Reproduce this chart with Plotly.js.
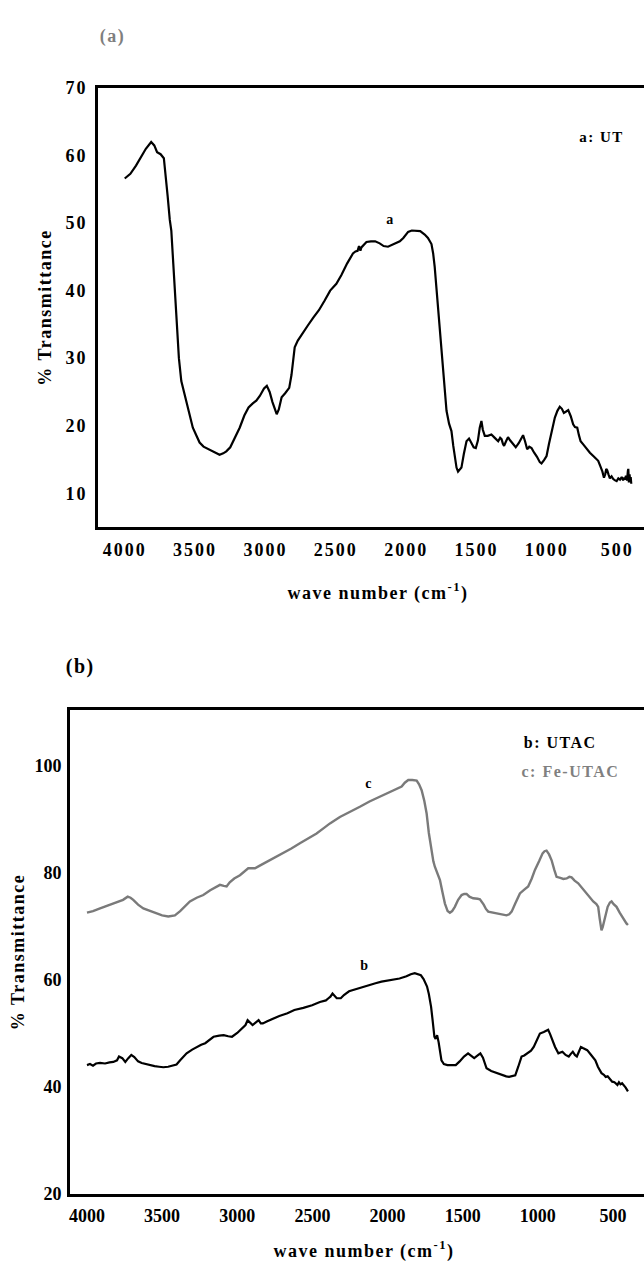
<!DOCTYPE html>
<html>
<head>
<meta charset="utf-8">
<script src="https://cdn.plot.ly/plotly-3.0.1.min.js"></script>
<style>
  html, body { margin: 0; padding: 0; background: #fff; overflow: hidden; }
  #chart { width: 680px; height: 1263px; }
  #chart .xtick text, #chart .ytick text { letter-spacing: 2px; }
  #chart .g-xtitle text, #chart .g-x2title text,
  #chart .g-ytitle text, #chart .g-y2title text { letter-spacing: 1.5px; }
  #chart .annotation-text { letter-spacing: 1.5px; }
</style>
</head>
<body>
<div id="chart"></div>
<script>
// FTIR spectra: (a) UT, (b) UTAC and Fe-UTAC
const waveA = [4000,3960,3920,3880,3850,3812,3790,3770,3745,3722,3710,3695,3680,3669,3655,3646,3630,3615,3598,3580,3563,3540,3516,3490,3468,3440,3410,3397,3370,3345,3326,3300,3278,3250,3220,3183,3150,3120,3090,3065,3040,3010,2990,2970,2950,2920,2905,2885,2860,2831,2815,2802,2792,2770,2740,2700,2660,2620,2580,2540,2496,2460,2420,2390,2378,2360,2345,2335,2325,2318,2300,2282,2250,2220,2188,2160,2129,2100,2070,2045,2020,1986,1960,1927,1900,1868,1845,1820,1808,1797,1785,1773,1755,1733,1720,1713,1695,1678,1665,1654,1642,1631,1620,1607,1590,1571,1553,1535,1520,1505,1490,1477,1465,1455,1441,1420,1394,1370,1346,1332,1322,1312,1304,1290,1276,1260,1240,1221,1200,1185,1169,1155,1140,1125,1109,1090,1070,1050,1038,1020,1002,985,965,943,925,908,893,879,863,848,830,813,800,784,772,760,740,720,694,670,650,635,620,605,594,585,578,571,562,552,540,528,515,504,492,480,468,458,450,445,438,430,424,421,417,412,408,404,400];
const transUT = [56.6,57.3,58.5,60.0,61.0,62.0,61.5,60.5,60.2,59.6,57.5,54.0,50.5,48.9,44.0,40.5,35.0,30.0,26.6,25.0,23.7,21.6,19.7,18.5,17.5,16.9,16.6,16.5,16.2,15.9,15.7,15.9,16.2,16.8,18.0,19.7,21.5,22.7,23.3,23.7,24.4,25.5,25.9,25.0,23.5,21.7,22.4,24.2,24.8,25.6,27.5,29.6,31.6,32.6,33.6,34.8,36.0,37.1,38.5,40.0,41.0,42.3,44.0,45.2,45.5,45.8,45.9,46.6,45.9,46.4,46.8,47.2,47.3,47.3,47.0,46.6,46.5,46.8,47.0,47.3,47.8,48.7,48.9,48.9,48.8,48.3,47.8,46.9,45.5,43.5,40.5,37.5,33.0,28.1,24.0,22.2,20.3,19.2,17.0,15.2,13.8,13.2,13.5,13.8,15.8,17.7,18.1,17.5,16.8,16.7,17.8,19.7,20.7,19.4,18.5,18.5,18.7,18.2,17.7,18.2,18.0,17.3,17.0,17.7,18.3,17.8,17.2,16.8,17.4,18.0,18.6,17.7,16.5,16.9,16.7,16.0,15.4,14.6,14.4,14.9,15.5,17.3,19.3,21.2,22.2,22.8,22.5,21.9,22.1,22.3,21.4,20.2,19.8,19.7,18.6,17.7,17.2,16.6,16.0,15.5,15.1,14.8,14.0,13.2,12.3,12.8,13.6,13.4,12.8,12.2,12.5,12.1,11.9,11.8,12.2,12.0,12.4,11.9,12.3,12.0,12.6,11.9,13.3,13.6,11.6,12.8,11.7,12.4,11.4];

const waveFe = [4000,3960,3913,3860,3802,3760,3729,3710,3692,3660,3625,3580,3536,3500,3459,3430,3415,3380,3350,3315,3270,3226,3180,3140,3115,3090,3071,3050,3020,2982,2950,2927,2900,2882,2850,2804,2750,2694,2640,2583,2530,2472,2420,2383,2317,2250,2184,2120,2051,2000,1962,1930,1906,1885,1862,1835,1806,1790,1773,1755,1740,1725,1707,1695,1685,1670,1651,1635,1618,1600,1585,1570,1552,1530,1507,1490,1474,1455,1430,1400,1385,1360,1345,1330,1300,1274,1240,1208,1190,1174,1150,1130,1119,1090,1064,1040,1019,990,968,955,942,925,908,890,875,850,830,808,790,775,755,731,700,675,650,631,610,598,588,580,576,568,560,548,535,520,509,495,476,455,432,410,400];
const transFeUTAC = [72.6,72.9,73.4,74.0,74.6,75.0,75.6,75.4,75.0,74.1,73.4,72.9,72.5,72.1,71.9,72.0,72.1,72.9,73.8,74.7,75.4,75.9,76.8,77.5,77.8,77.6,77.5,78.3,79.0,79.6,80.3,80.9,80.9,80.9,81.4,82.1,82.9,83.7,84.6,85.6,86.5,87.4,88.5,89.3,90.5,91.4,92.4,93.4,94.3,94.9,95.5,95.8,96.2,96.9,97.4,97.4,97.3,96.6,95.5,93.5,91.2,87.5,83.7,82.2,81.2,80.0,78.7,76.5,74.3,72.9,72.6,72.9,73.7,75.0,75.9,76.1,76.1,75.6,75.3,75.2,75.1,74.1,73.3,72.8,72.6,72.5,72.3,72.1,72.3,72.8,74.3,75.7,76.2,76.9,77.5,79.0,80.6,82.3,83.7,84.1,84.2,83.5,82.4,80.6,79.3,79.1,78.9,79.0,79.3,79.2,78.6,78.1,77.0,76.2,75.4,74.7,74.2,73.7,71.5,69.6,69.3,69.9,70.9,72.0,73.7,74.5,74.7,74.2,73.7,72.6,71.5,70.6,70.3];

const waveB = [4000,3980,3960,3940,3913,3880,3850,3825,3800,3787,3765,3745,3725,3705,3685,3660,3636,3610,3581,3550,3520,3492,3460,3426,3404,3380,3337,3300,3270,3240,3213,3190,3158,3120,3090,3060,3035,3000,2967,2945,2931,2915,2898,2880,2858,2843,2830,2800,2760,2720,2666,2620,2560,2502,2450,2410,2393,2380,2366,2350,2338,2311,2290,2256,2200,2160,2120,2080,2040,2000,1955,1920,1874,1845,1819,1795,1778,1760,1748,1737,1725,1718,1710,1700,1688,1680,1670,1660,1650,1641,1625,1601,1575,1546,1520,1491,1464,1445,1423,1400,1382,1365,1350,1341,1310,1273,1240,1210,1191,1170,1150,1130,1108,1090,1068,1045,1027,1005,986,960,931,918,904,885,863,850,836,815,794,780,767,753,740,728,713,700,671,645,617,600,588,576,560,548,535,521,505,490,480,470,460,450,439,425,415,400];
const transUTAC = [44.1,44.3,44.0,44.4,44.5,44.4,44.6,44.7,45.0,45.7,45.4,44.7,45.4,46.0,45.6,44.8,44.5,44.3,44.1,43.9,43.8,43.7,43.8,44.1,44.2,45.0,46.3,47.0,47.5,47.9,48.2,48.7,49.4,49.6,49.7,49.5,49.4,50.1,51.0,51.6,52.5,52.0,51.6,52.0,52.5,51.9,51.9,52.3,52.8,53.3,53.8,54.4,54.8,55.3,55.9,56.2,56.6,56.9,57.5,56.9,56.6,56.6,57.2,57.9,58.4,58.8,59.1,59.4,59.7,59.9,60.2,60.3,60.7,61.1,61.3,61.0,60.9,60.2,59.5,58.8,57.4,56.5,55.0,52.5,49.4,49.0,49.7,48.4,46.0,45.0,44.3,44.1,44.1,44.1,44.8,45.7,46.3,45.8,45.4,45.9,46.3,45.5,44.2,43.5,43.0,42.6,42.3,42.0,41.9,42.0,42.2,43.8,45.7,45.9,46.3,46.8,47.5,49.0,50.0,50.3,50.7,49.9,48.8,47.5,46.3,46.4,46.6,46.0,45.7,46.2,46.6,46.0,45.7,46.5,47.5,47.3,46.9,46.0,45.0,43.8,43.2,42.6,42.3,41.9,42.0,41.6,41.0,40.9,40.7,40.4,40.9,40.5,40.7,40.3,39.9,39.2];

const waveTicks = [4000, 3500, 3000, 2500, 2000, 1500, 1000, 500];
const ticksA = [10, 20, 30, 40, 50, 60, 70];
const ticksB = [20, 40, 60, 80, 100];

const W = 680, H = 1263;
const px = v => v / W;          // horizontal pixel -> paper fraction
const py = v => 1 - v / H;      // vertical pixel (from top) -> paper fraction

const serif = 'Liberation Serif, Times New Roman, serif';
const tickFont = {family: serif, size: 18, color: '#000', weight: 'bold'};
const titleFont = {family: serif, size: 18, color: '#000', weight: 'bold'};

const axisBase = {
  showline: true, mirror: true, linecolor: '#000', linewidth: 3,
  showgrid: false, zeroline: false, ticks: '', tickfont: tickFont,
  automargin: false, fixedrange: true
};

const traces = [
  {x: waveA, y: transUT, xaxis: 'x', yaxis: 'y', mode: 'lines',
   line: {color: '#000', width: 2.2}, hoverinfo: 'skip'},
  {x: waveB, y: transUTAC, xaxis: 'x2', yaxis: 'y2', mode: 'lines',
   line: {color: '#000', width: 2.2}, hoverinfo: 'skip'},
  {x: waveFe, y: transFeUTAC, xaxis: 'x2', yaxis: 'y2', mode: 'lines',
   line: {color: '#7a7a7a', width: 2.4}, hoverinfo: 'skip'}
];

const layout = {
  width: W, height: H,
  margin: {l: 0, r: 0, t: 0, b: 0},
  paper_bgcolor: '#fff', plot_bgcolor: '#fff',
  showlegend: false,
  font: {family: serif, color: '#000'},
  xaxis: Object.assign({}, axisBase, {
    domain: [px(98), px(658)], range: [4190, 210], anchor: 'y',
    tickvals: waveTicks, ticklabelstandoff: 4,
    title: {text: 'wave number (cm<sup>-1</sup>)', font: titleFont, standoff: 28}
  }),
  yaxis: Object.assign({}, axisBase, {
    domain: [py(527), py(88)], range: [5, 70], anchor: 'x',
    tickvals: ticksA, ticklabelstandoff: 4,
    title: {text: '% Transmittance', font: titleFont, standoff: 14}
  }),
  xaxis2: Object.assign({}, axisBase, {
    domain: [px(70), px(658)], range: [4113, 200], anchor: 'y2',
    tickvals: waveTicks, ticklabelstandoff: 3,
    title: {text: 'wave number (cm<sup>-1</sup>)', font: titleFont, standoff: 20}
  }),
  yaxis2: Object.assign({}, axisBase, {
    domain: [py(1194), py(710)], range: [20, 110.5], anchor: 'x2',
    tickvals: ticksB, ticklabelstandoff: 2,
    title: {text: '% Transmittance', font: titleFont, standoff: 6}
  }),
  annotations: [
    {xref: 'paper', yref: 'paper', x: px(100), y: py(24), text: '(a)',
     showarrow: false, font: {family: serif, size: 18, color: '#7f7f7f', weight: 'bold'}},
    {xref: 'paper', yref: 'paper', x: px(66), y: py(666), text: '(b)',
     showarrow: false, font: {family: serif, size: 20, color: '#000', weight: 'bold'}},
    {xref: 'x', yref: 'y', x: 2112, y: 50.5, text: 'a', showarrow: false,
     font: {family: serif, size: 14, color: '#000', weight: 'bold'}},
    {xref: 'x', yref: 'y', x: 611, y: 62.8, text: 'a: UT', showarrow: false,
     font: {family: serif, size: 15, color: '#000', weight: 'bold'}},
    {xref: 'x2', yref: 'y2', x: 2152, y: 62.8, text: 'b', showarrow: false,
     font: {family: serif, size: 14, color: '#000', weight: 'bold'}},
    {xref: 'x2', yref: 'y2', x: 2122, y: 96.8, text: 'c', showarrow: false,
     font: {family: serif, size: 14, color: '#000', weight: 'bold'}},
    {xref: 'x2', yref: 'y2', x: 1072, y: 104.4, xanchor: 'left', text: 'b: UTAC', showarrow: false,
     font: {family: serif, size: 16, color: '#000', weight: 'bold'}},
    {xref: 'x2', yref: 'y2', x: 1072, y: 99.0, xanchor: 'left', text: 'c: Fe-UTAC', showarrow: false,
     font: {family: serif, size: 16, color: '#808080', weight: 'bold'}}
  ]
};

Plotly.newPlot('chart', traces, layout, {staticPlot: true, displayModeBar: false});
</script>
</body>
</html>
